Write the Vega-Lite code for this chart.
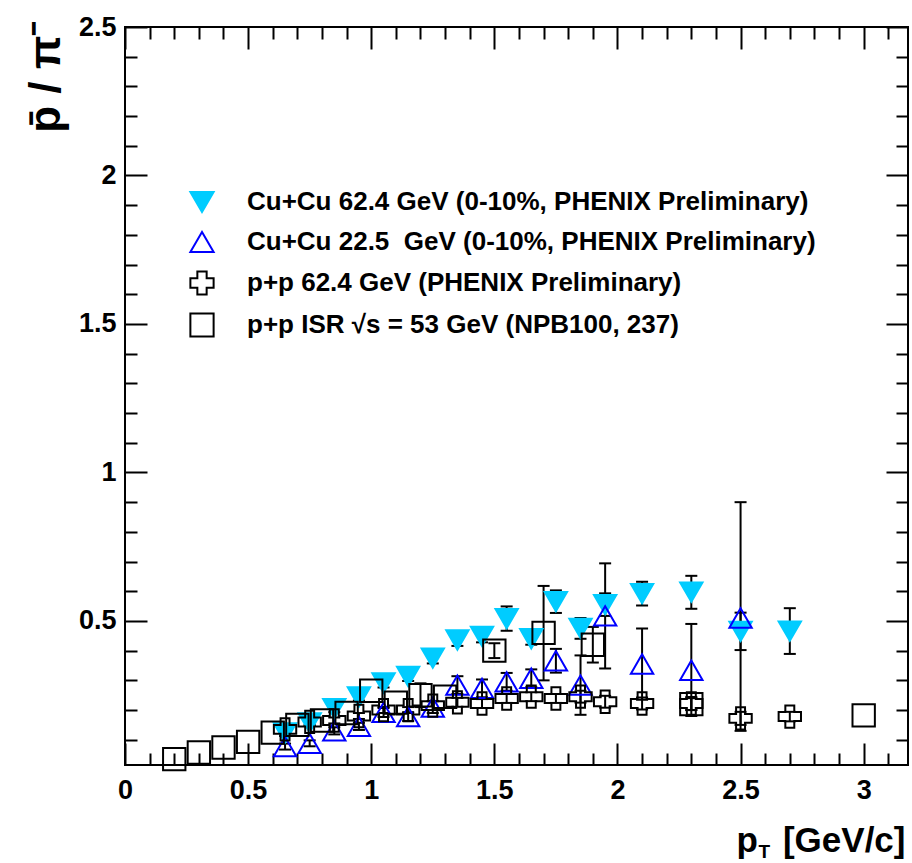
{
  "$schema": "https://vega.github.io/schema/vega-lite/v6.json",
  "autosize": "none",
  "width": 783,
  "height": 738,
  "padding": {"left": 125, "top": 27, "right": 4, "bottom": 98},
  "background": "white",
  "config": {
    "view": {"stroke": "black", "strokeWidth": 2},
    "font": "Liberation Sans",
    "axis": {"domain": false, "grid": false, "tickColor": "black", "tickWidth": 2, "labelColor": "black", "titleColor": "black", "labelFont": "Liberation Sans", "labelFontWeight": "bold", "titleFont": "Liberation Sans", "titleFontWeight": "bold"}
  },
  "datasets": {
    "pts": [
      {"s": "Cu+Cu 62.4 GeV (0-10%, PHENIX Preliminary)", "x": 0.65, "y": 0.123, "lo": 0.113, "hi": 0.133},
      {"s": "Cu+Cu 62.4 GeV (0-10%, PHENIX Preliminary)", "x": 0.75, "y": 0.157, "lo": 0.147, "hi": 0.167},
      {"s": "Cu+Cu 62.4 GeV (0-10%, PHENIX Preliminary)", "x": 0.85, "y": 0.205, "lo": 0.193, "hi": 0.217},
      {"s": "Cu+Cu 62.4 GeV (0-10%, PHENIX Preliminary)", "x": 0.95, "y": 0.244, "lo": 0.232, "hi": 0.256},
      {"s": "Cu+Cu 62.4 GeV (0-10%, PHENIX Preliminary)", "x": 1.05, "y": 0.291, "lo": 0.276, "hi": 0.306},
      {"s": "Cu+Cu 62.4 GeV (0-10%, PHENIX Preliminary)", "x": 1.15, "y": 0.313, "lo": 0.298, "hi": 0.328},
      {"s": "Cu+Cu 62.4 GeV (0-10%, PHENIX Preliminary)", "x": 1.25, "y": 0.375, "lo": 0.357, "hi": 0.393},
      {"s": "Cu+Cu 62.4 GeV (0-10%, PHENIX Preliminary)", "x": 1.35, "y": 0.436, "lo": 0.416, "hi": 0.456},
      {"s": "Cu+Cu 62.4 GeV (0-10%, PHENIX Preliminary)", "x": 1.45, "y": 0.448, "lo": 0.428, "hi": 0.468},
      {"s": "Cu+Cu 62.4 GeV (0-10%, PHENIX Preliminary)", "x": 1.55, "y": 0.508, "lo": 0.467, "hi": 0.549},
      {"s": "Cu+Cu 62.4 GeV (0-10%, PHENIX Preliminary)", "x": 1.65, "y": 0.44, "lo": 0.42, "hi": 0.46},
      {"s": "Cu+Cu 62.4 GeV (0-10%, PHENIX Preliminary)", "x": 1.75, "y": 0.565, "lo": 0.527, "hi": 0.603},
      {"s": "Cu+Cu 62.4 GeV (0-10%, PHENIX Preliminary)", "x": 1.85, "y": 0.475, "lo": 0.44, "hi": 0.51},
      {"s": "Cu+Cu 62.4 GeV (0-10%, PHENIX Preliminary)", "x": 1.95, "y": 0.555, "lo": 0.517, "hi": 0.593},
      {"s": "Cu+Cu 62.4 GeV (0-10%, PHENIX Preliminary)", "x": 2.1, "y": 0.592, "lo": 0.552, "hi": 0.632},
      {"s": "Cu+Cu 62.4 GeV (0-10%, PHENIX Preliminary)", "x": 2.3, "y": 0.597, "lo": 0.541, "hi": 0.652},
      {"s": "Cu+Cu 62.4 GeV (0-10%, PHENIX Preliminary)", "x": 2.5, "y": 0.465, "lo": 0.402, "hi": 0.528},
      {"s": "Cu+Cu 62.4 GeV (0-10%, PHENIX Preliminary)", "x": 2.7, "y": 0.466, "lo": 0.389, "hi": 0.543},
      {"s": "Cu+Cu 22.5  GeV (0-10%, PHENIX Preliminary)", "x": 0.65, "y": 0.077, "lo": 0.067, "hi": 0.087},
      {"s": "Cu+Cu 22.5  GeV (0-10%, PHENIX Preliminary)", "x": 0.75, "y": 0.088, "lo": 0.078, "hi": 0.098},
      {"s": "Cu+Cu 22.5  GeV (0-10%, PHENIX Preliminary)", "x": 0.85, "y": 0.13, "lo": 0.118, "hi": 0.142},
      {"s": "Cu+Cu 22.5  GeV (0-10%, PHENIX Preliminary)", "x": 0.95, "y": 0.145, "lo": 0.133, "hi": 0.157},
      {"s": "Cu+Cu 22.5  GeV (0-10%, PHENIX Preliminary)", "x": 1.05, "y": 0.192, "lo": 0.177, "hi": 0.207},
      {"s": "Cu+Cu 22.5  GeV (0-10%, PHENIX Preliminary)", "x": 1.15, "y": 0.178, "lo": 0.163, "hi": 0.193},
      {"s": "Cu+Cu 22.5  GeV (0-10%, PHENIX Preliminary)", "x": 1.25, "y": 0.21, "lo": 0.19, "hi": 0.23},
      {"s": "Cu+Cu 22.5  GeV (0-10%, PHENIX Preliminary)", "x": 1.35, "y": 0.284, "lo": 0.254, "hi": 0.314},
      {"s": "Cu+Cu 22.5  GeV (0-10%, PHENIX Preliminary)", "x": 1.45, "y": 0.273, "lo": 0.243, "hi": 0.303},
      {"s": "Cu+Cu 22.5  GeV (0-10%, PHENIX Preliminary)", "x": 1.55, "y": 0.295, "lo": 0.265, "hi": 0.325},
      {"s": "Cu+Cu 22.5  GeV (0-10%, PHENIX Preliminary)", "x": 1.65, "y": 0.307, "lo": 0.277, "hi": 0.337},
      {"s": "Cu+Cu 22.5  GeV (0-10%, PHENIX Preliminary)", "x": 1.75, "y": 0.366, "lo": 0.326, "hi": 0.406},
      {"s": "Cu+Cu 22.5  GeV (0-10%, PHENIX Preliminary)", "x": 1.85, "y": 0.284, "lo": 0.184, "hi": 0.384},
      {"s": "Cu+Cu 22.5  GeV (0-10%, PHENIX Preliminary)", "x": 1.95, "y": 0.517, "lo": 0.34, "hi": 0.694},
      {"s": "Cu+Cu 22.5  GeV (0-10%, PHENIX Preliminary)", "x": 2.1, "y": 0.355, "lo": 0.235, "hi": 0.475},
      {"s": "Cu+Cu 22.5  GeV (0-10%, PHENIX Preliminary)", "x": 2.3, "y": 0.334, "lo": 0.18, "hi": 0.49},
      {"s": "Cu+Cu 22.5  GeV (0-10%, PHENIX Preliminary)", "x": 2.5, "y": 0.51, "lo": 0.13, "hi": 0.9},
      {"s": "p+p 62.4 GeV (PHENIX Preliminary)", "x": 0.65, "y": 0.135, "lo": 0.125, "hi": 0.145},
      {"s": "p+p 62.4 GeV (PHENIX Preliminary)", "x": 0.75, "y": 0.16, "lo": 0.15, "hi": 0.17},
      {"s": "p+p 62.4 GeV (PHENIX Preliminary)", "x": 0.85, "y": 0.165, "lo": 0.155, "hi": 0.175},
      {"s": "p+p 62.4 GeV (PHENIX Preliminary)", "x": 0.95, "y": 0.18, "lo": 0.17, "hi": 0.19},
      {"s": "p+p 62.4 GeV (PHENIX Preliminary)", "x": 1.05, "y": 0.2, "lo": 0.19, "hi": 0.21},
      {"s": "p+p 62.4 GeV (PHENIX Preliminary)", "x": 1.15, "y": 0.2, "lo": 0.19, "hi": 0.21},
      {"s": "p+p 62.4 GeV (PHENIX Preliminary)", "x": 1.25, "y": 0.215, "lo": 0.2, "hi": 0.23},
      {"s": "p+p 62.4 GeV (PHENIX Preliminary)", "x": 1.35, "y": 0.226, "lo": 0.211, "hi": 0.241},
      {"s": "p+p 62.4 GeV (PHENIX Preliminary)", "x": 1.45, "y": 0.222, "lo": 0.207, "hi": 0.237},
      {"s": "p+p 62.4 GeV (PHENIX Preliminary)", "x": 1.55, "y": 0.239, "lo": 0.224, "hi": 0.254},
      {"s": "p+p 62.4 GeV (PHENIX Preliminary)", "x": 1.65, "y": 0.245, "lo": 0.23, "hi": 0.26},
      {"s": "p+p 62.4 GeV (PHENIX Preliminary)", "x": 1.75, "y": 0.239, "lo": 0.224, "hi": 0.254},
      {"s": "p+p 62.4 GeV (PHENIX Preliminary)", "x": 1.85, "y": 0.245, "lo": 0.225, "hi": 0.265},
      {"s": "p+p 62.4 GeV (PHENIX Preliminary)", "x": 1.95, "y": 0.228, "lo": 0.208, "hi": 0.248},
      {"s": "p+p 62.4 GeV (PHENIX Preliminary)", "x": 2.1, "y": 0.222, "lo": 0.202, "hi": 0.242},
      {"s": "p+p 62.4 GeV (PHENIX Preliminary)", "x": 2.3, "y": 0.222, "lo": 0.2, "hi": 0.244},
      {"s": "p+p 62.4 GeV (PHENIX Preliminary)", "x": 2.5, "y": 0.172, "lo": 0.15, "hi": 0.194},
      {"s": "p+p 62.4 GeV (PHENIX Preliminary)", "x": 2.7, "y": 0.178, "lo": 0.162, "hi": 0.194},
      {"s": "p+p ISR √s = 53 GeV (NPB100, 237)", "x": 0.2, "y": 0.035},
      {"s": "p+p ISR √s = 53 GeV (NPB100, 237)", "x": 0.3, "y": 0.057},
      {"s": "p+p ISR √s = 53 GeV (NPB100, 237)", "x": 0.4, "y": 0.074},
      {"s": "p+p ISR √s = 53 GeV (NPB100, 237)", "x": 0.5, "y": 0.093},
      {"s": "p+p ISR √s = 53 GeV (NPB100, 237)", "x": 0.6, "y": 0.124},
      {"s": "p+p ISR √s = 53 GeV (NPB100, 237)", "x": 0.7, "y": 0.15},
      {"s": "p+p ISR √s = 53 GeV (NPB100, 237)", "x": 0.8, "y": 0.165},
      {"s": "p+p ISR √s = 53 GeV (NPB100, 237)", "x": 0.9, "y": 0.19},
      {"s": "p+p ISR √s = 53 GeV (NPB100, 237)", "x": 1.0, "y": 0.265},
      {"s": "p+p ISR √s = 53 GeV (NPB100, 237)", "x": 1.1, "y": 0.225},
      {"s": "p+p ISR √s = 53 GeV (NPB100, 237)", "x": 1.2, "y": 0.25, "lo": 0.21, "hi": 0.29},
      {"s": "p+p ISR √s = 53 GeV (NPB100, 237)", "x": 1.3, "y": 0.245},
      {"s": "p+p ISR √s = 53 GeV (NPB100, 237)", "x": 1.5, "y": 0.4, "lo": 0.375, "hi": 0.425},
      {"s": "p+p ISR √s = 53 GeV (NPB100, 237)", "x": 1.7, "y": 0.46, "lo": 0.3, "hi": 0.618},
      {"s": "p+p ISR √s = 53 GeV (NPB100, 237)", "x": 1.9, "y": 0.42, "lo": 0.36, "hi": 0.48},
      {"s": "p+p ISR √s = 53 GeV (NPB100, 237)", "x": 2.3, "y": 0.22, "lo": 0.2, "hi": 0.24},
      {"s": "p+p ISR √s = 53 GeV (NPB100, 237)", "x": 3.0, "y": 0.182}
    ]
  },
  "data": {"name": "pts"},
  "resolve": {"axis": {"x": "independent", "y": "independent"}},
  "layer": [
    {
      "transform": [{"filter": "isValid(datum.lo)"}],
      "mark": {"type": "rule", "color": "black", "strokeWidth": 2},
      "encoding": {
        "x": {"field": "x", "type": "quantitative",
          "scale": {"domain": [0, 3.18], "nice": false, "zero": false},
          "axis": {"orient": "bottom", "values": [0, 0.5, 1, 1.5, 2, 2.5, 3], "format": "~g", "tickSize": -22, "labelPadding": 34, "labelFontSize": 27, "labelFlush": false,
            "title": "[GeV/c]", "titleFontSize": 35, "titleX": 780, "titleY": 86, "titleAlign": "right", "titleBaseline": "alphabetic", "titleAnchor": null}},
        "y": {"field": "lo", "type": "quantitative",
          "scale": {"domain": [0.015, 2.5], "nice": false, "zero": false},
          "axis": {"orient": "left", "values": [0.5, 1, 1.5, 2, 2.5], "format": "~g", "tickSize": -22, "labelPadding": 31, "labelFontSize": 27, "labelFlush": false,
            "title": "p̄ / π⁻", "titleFontSize": 44, "titleAngle": 270, "titleX": -66, "titleY": -7, "titleAlign": "right", "titleBaseline": "alphabetic", "titleAnchor": null}},
        "y2": {"field": "hi"}
      }
    },
    {
      "transform": [{"filter": "isValid(datum.hi)"}],
      "mark": {"type": "tick", "orient": "horizontal", "color": "black", "size": 12, "thickness": 2, "opacity": 1},
      "encoding": {
        "x": {"field": "x", "type": "quantitative",
          "axis": {"orient": "bottom", "values": [0.1,0.2,0.3,0.4,0.6,0.7,0.8,0.9,1.1,1.2,1.3,1.4,1.6,1.7,1.8,1.9,2.1,2.2,2.3,2.4,2.6,2.7,2.8,2.9,3.1], "tickSize": -12, "labels": false,
            "title": "p", "titleFontSize": 35, "titleX": 611, "titleY": 86, "titleAlign": "left", "titleBaseline": "alphabetic", "titleAnchor": null}},
        "y": {"field": "hi", "type": "quantitative",
          "axis": {"orient": "left", "values": [0.1,0.2,0.3,0.4,0.6,0.7,0.8,0.9,1.1,1.2,1.3,1.4,1.6,1.7,1.8,1.9,2.1,2.2,2.3,2.4], "tickSize": -12, "labels": false, "title": null}}
      }
    },
    {
      "transform": [{"filter": "isValid(datum.lo)"}],
      "mark": {"type": "tick", "orient": "horizontal", "color": "black", "size": 12, "thickness": 2, "opacity": 1},
      "encoding": {
        "x": {"field": "x", "type": "quantitative",
          "axis": {"orient": "top", "values": [0, 0.5, 1, 1.5, 2, 2.5, 3], "tickSize": -22, "labels": false,
            "title": "T", "titleFontSize": 19, "titleX": 633, "titleY": 830, "titleAlign": "left", "titleBaseline": "alphabetic", "titleAnchor": null}},
        "y": {"field": "lo", "type": "quantitative",
          "axis": {"orient": "right", "values": [0.5, 1, 1.5, 2, 2.5], "tickSize": -22, "labels": false, "title": null}}
      }
    },
    {
      "mark": {"type": "point", "size": 500, "strokeWidth": 2, "opacity": 1},
      "encoding": {
        "x": {"field": "x", "type": "quantitative",
          "axis": {"orient": "top", "values": [0.1,0.2,0.3,0.4,0.6,0.7,0.8,0.9,1.1,1.2,1.3,1.4,1.6,1.7,1.8,1.9,2.1,2.2,2.3,2.4,2.6,2.7,2.8,2.9,3.1], "tickSize": -12, "labels": false, "title": null}},
        "y": {"field": "y", "type": "quantitative",
          "axis": {"orient": "right", "values": [0.1,0.2,0.3,0.4,0.6,0.7,0.8,0.9,1.1,1.2,1.3,1.4,1.6,1.7,1.8,1.9,2.1,2.2,2.3,2.4], "tickSize": -12, "labels": false, "title": null}},
        "shape": {"field": "s", "type": "nominal",
          "scale": {"domain": ["Cu+Cu 62.4 GeV (0-10%, PHENIX Preliminary)", "Cu+Cu 22.5  GeV (0-10%, PHENIX Preliminary)", "p+p 62.4 GeV (PHENIX Preliminary)", "p+p ISR √s = 53 GeV (NPB100, 237)"],
            "range": ["triangle-down", "triangle-up", "cross", "square"]},
          "legend": {"title": null, "orient": "none", "legendX": 64, "legendY": 162, "padding": 0, "labelFont": "Liberation Sans", "labelFontWeight": "bold", "labelFontSize": 26, "labelColor": "black", "labelOffset": 32, "rowPadding": 10, "symbolSize": 540, "symbolStrokeWidth": 2, "labelLimit": 0, "labelExpr": "replace(datum.label, '22.5  GeV', '22.5\u00a0\u00a0GeV')"}},
        "fill": {"field": "s", "type": "nominal",
          "scale": {"domain": ["Cu+Cu 62.4 GeV (0-10%, PHENIX Preliminary)", "Cu+Cu 22.5  GeV (0-10%, PHENIX Preliminary)", "p+p 62.4 GeV (PHENIX Preliminary)", "p+p ISR √s = 53 GeV (NPB100, 237)"],
            "range": ["#00ccff", "transparent", "transparent", "transparent"]},
          "legend": {"title": null, "orient": "none", "legendX": 64, "legendY": 162, "padding": 0, "labelFont": "Liberation Sans", "labelFontWeight": "bold", "labelFontSize": 26, "labelColor": "black", "labelOffset": 32, "rowPadding": 10, "symbolSize": 540, "symbolStrokeWidth": 2, "labelLimit": 0, "labelExpr": "replace(datum.label, '22.5  GeV', '22.5\u00a0\u00a0GeV')"}},
        "stroke": {"field": "s", "type": "nominal",
          "scale": {"domain": ["Cu+Cu 62.4 GeV (0-10%, PHENIX Preliminary)", "Cu+Cu 22.5  GeV (0-10%, PHENIX Preliminary)", "p+p 62.4 GeV (PHENIX Preliminary)", "p+p ISR √s = 53 GeV (NPB100, 237)"],
            "range": ["#00ccff", "#0000ff", "black", "black"]},
          "legend": {"title": null, "orient": "none", "legendX": 64, "legendY": 162, "padding": 0, "labelFont": "Liberation Sans", "labelFontWeight": "bold", "labelFontSize": 26, "labelColor": "black", "labelOffset": 32, "rowPadding": 10, "symbolSize": 540, "symbolStrokeWidth": 2, "labelLimit": 0, "labelExpr": "replace(datum.label, '22.5  GeV', '22.5\u00a0\u00a0GeV')"}}
      }
    }
  ]
}
